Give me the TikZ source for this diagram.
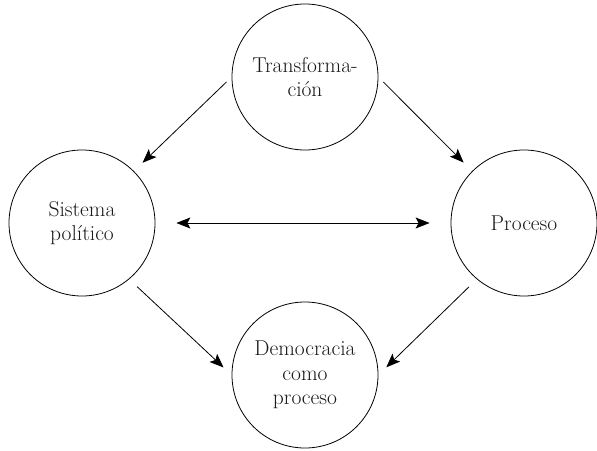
\documentclass[tikz,border=0pt]{standalone}
\usetikzlibrary{arrows.meta}

\tikzset{
  circ/.style={draw, circle, line width=0.8pt, minimum size=146pt, inner sep=0pt,
    align=center, text=black!90, font=\fontsize{21.5}{24.5}\selectfont},
  arr/.style={-{Stealth[length=14pt,width=11pt,inset=3pt]}, line width=0.8pt},
}

\begin{document}
\begin{tikzpicture}[x=1pt, y=-1pt]
            \useasboundingbox (0,0) rectangle (597,450);

            \node[circ] (trans) at (305,77) {Transforma-\\ción};
            \node[circ] (sist) at (82,223) {Sistema\\político};
            \node[circ] (proc) at (524,223) {Proceso};
            \node[circ] (demo) at (305,375) {Democracia\\como\\proceso};

            \draw[arr, shorten <=7pt, shorten >=12pt] (trans.west) to (sist.45);
            \draw[arr, shorten <=7pt, shorten >=12pt] (trans.east) to (proc.135);
            \draw[arr, shorten <=11pt, shorten >=11pt] (sist.-50) to (demo.west);
            \draw[arr, shorten <=11pt, shorten >=11pt] (proc.230) to (demo.east);
            \draw[arr, {Stealth[length=14pt,width=11pt,inset=3pt]}-{Stealth[length=14pt,width=11pt,inset=3pt]}, shorten <=21pt, shorten >=21pt] (sist.east) to (proc.west);
        \end{tikzpicture}
\end{document}
